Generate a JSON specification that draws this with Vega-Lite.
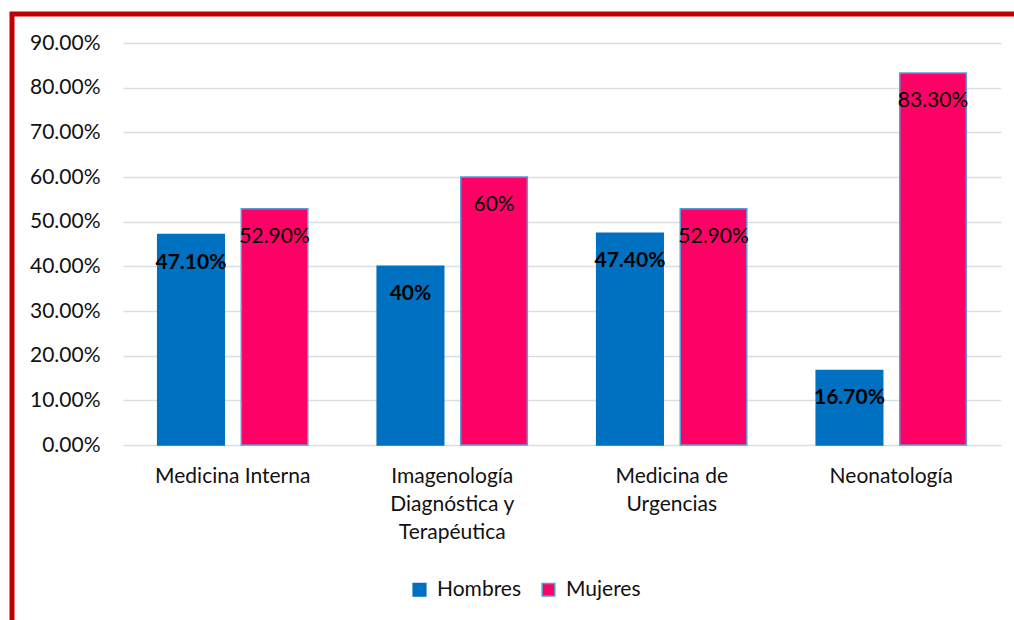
{
  "$schema": "https://vega.github.io/schema/vega-lite/v6.json",
  "width": 1002,
  "height": 606,
  "autosize": {"type": "none"},
  "padding": {"left": 12, "top": 14, "right": 0, "bottom": 0},
  "background": "#ffffff",
  "view": {"stroke": "#c00000", "strokeWidth": 5, "strokeDash": [1002, 1608, 606], "strokeCap": "square"},
  "config": {
    "font": "Lato",
    "legend": {
      "orient": "none", "legendX": 397, "legendY": 565, "direction": "horizontal",
      "title": null, "symbolType": "square", "symbolSize": 160, "symbolStrokeWidth": 1.5,
      "labelFont": "Lato", "labelFontSize": 21, "labelColor": "#111111",
      "columnPadding": 16, "labelOffset": 7
    }
  },
  "data": {
    "values": [
      {"especialidad": "Medicina Interna", "sexo": "Hombres", "valor": 0.471, "etiqueta": "47.10%"},
      {"especialidad": "Medicina Interna", "sexo": "Mujeres", "valor": 0.529, "etiqueta": "52.90%"},
      {"especialidad": "Imagenología Diagnóstica y Terapéutica", "sexo": "Hombres", "valor": 0.40, "etiqueta": "40%"},
      {"especialidad": "Imagenología Diagnóstica y Terapéutica", "sexo": "Mujeres", "valor": 0.60, "etiqueta": "60%"},
      {"especialidad": "Medicina de Urgencias", "sexo": "Hombres", "valor": 0.474, "etiqueta": "47.40%"},
      {"especialidad": "Medicina de Urgencias", "sexo": "Mujeres", "valor": 0.529, "etiqueta": "52.90%"},
      {"especialidad": "Neonatología", "sexo": "Hombres", "valor": 0.167, "etiqueta": "16.70%"},
      {"especialidad": "Neonatología", "sexo": "Mujeres", "valor": 0.833, "etiqueta": "83.30%"}
    ]
  },
  "encoding": {
    "x": {
      "field": "especialidad", "type": "nominal", "sort": null,
      "scale": {"range": [111, 989], "paddingInner": 0.316, "paddingOuter": 0.158},
      "axis": {
        "title": null, "orient": "bottom", "offset": -175, "domain": false, "ticks": false,
        "labelAngle": 0, "labelPadding": 20, "labelFont": "Lato", "labelFontSize": 21,
        "labelColor": "#111111", "labelLineHeight": 28, "labelLimit": 300,
        "labelExpr": "datum.value == 'Imagenología Diagnóstica y Terapéutica' ? ['Imagenología','Diagnóstica y','Terapéutica'] : datum.value == 'Medicina de Urgencias' ? ['Medicina de','Urgencias'] : datum.value"
      }
    },
    "xOffset": {"field": "sexo", "type": "nominal", "scale": {"paddingInner": 0.204, "paddingOuter": 0}},
    "y": {
      "field": "valor", "type": "quantitative",
      "scale": {"domain": [0, 0.9], "nice": false, "range": [431, 29]},
      "axis": {
        "title": null, "orient": "left", "offset": -111, "domain": false, "ticks": false,
        "values": [0, 0.1, 0.2, 0.3, 0.4, 0.5, 0.6, 0.7, 0.8, 0.9], "format": ".2%",
        "labelPadding": 23, "labelFont": "Lato", "labelFontSize": 21, "labelColor": "#111111",
        "grid": true, "gridColor": "#d9dde4", "gridWidth": 1.5
      }
    }
  },
  "layer": [
    {
      "mark": {"type": "bar", "strokeWidth": 1.5},
      "encoding": {
        "color": {"field": "sexo", "type": "nominal", "scale": {"domain": ["Hombres", "Mujeres"], "range": ["#0070c0", "#ff0066"]}},
        "stroke": {"field": "sexo", "type": "nominal", "scale": {"domain": ["Hombres", "Mujeres"], "range": ["#0070c0", "#5b9bd5"]}}
      }
    },
    {
      "transform": [{"filter": "datum.sexo == 'Hombres'"}],
      "mark": {"type": "text", "dy": 28, "baseline": "middle", "align": "center", "font": "Lato", "fontSize": 21, "fontWeight": "bold", "color": "#000000"},
      "encoding": {"text": {"field": "etiqueta", "type": "nominal"}}
    },
    {
      "transform": [{"filter": "datum.sexo == 'Mujeres'"}],
      "mark": {"type": "text", "dy": 28, "baseline": "middle", "align": "center", "font": "Lato", "fontSize": 21, "color": "#000000"},
      "encoding": {"text": {"field": "etiqueta", "type": "nominal"}}
    }
  ]
}
